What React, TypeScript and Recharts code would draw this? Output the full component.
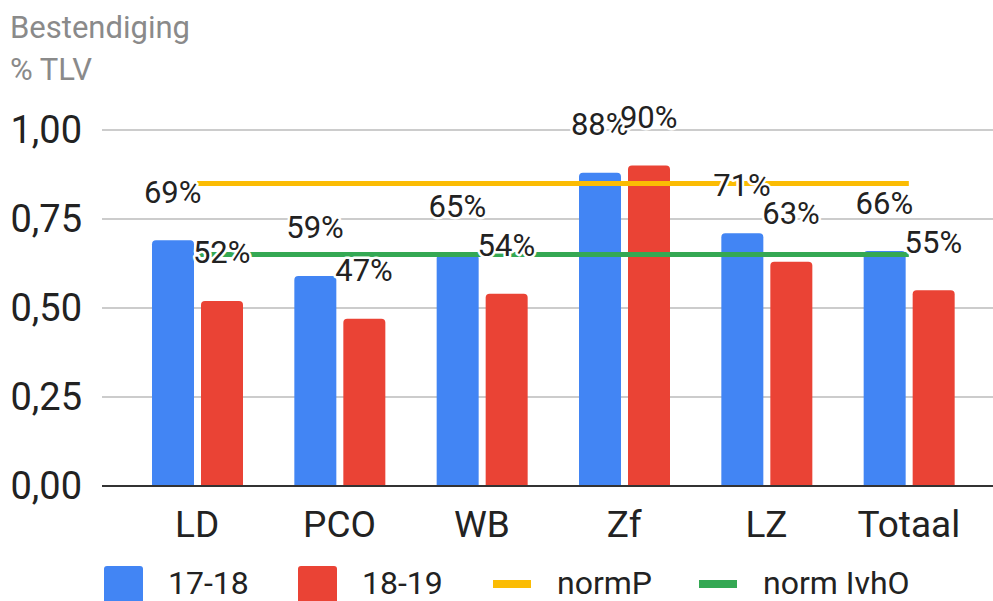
import React from 'react';
import { ComposedChart, Bar, Line, XAxis, YAxis, CartesianGrid, Legend } from 'recharts';

const categories = ['LD', 'PCO', 'WB', 'Zf', 'LZ', 'Totaal'];
const s1718 = [0.69, 0.59, 0.65, 0.88, 0.71, 0.66];
const s1819 = [0.52, 0.47, 0.54, 0.90, 0.63, 0.55];
const normP = [0.85, 0.85, 0.85, 0.85, 0.85, 0.85];
const normIvhO = [0.65, 0.65, 0.65, 0.65, 0.65, 0.65];
const yTicks = [0, 0.25, 0.5, 0.75, 1];

const data = categories.map((c, i) => ({
  cat: c,
  a: s1718[i],
  b: s1819[i],
  p: normP[i],
  o: normIvhO[i],
}));

const BLUE = '#4285F4';
const RED = '#EA4335';
const ORANGE = '#FBBC04';
const GREEN = '#34A853';
const FONT = 'Roboto, "Noto Sans", sans-serif';

const legendItems = [
  { name: '17-18', color: BLUE, kind: 'bar', w: 194 },
  { name: '18-19', color: RED, kind: 'bar', w: 195 },
  { name: 'normP', color: ORANGE, kind: 'line', w: 206 },
  { name: 'norm IvhO', color: GREEN, kind: 'line', w: 260 },
];

const makeLabel = (dx: number) => (props: any) => {
  const { x, y, value } = props;
  if (value == null) return null;
  return (
    <text
      x={x + dx}
      y={y - 48}
      textAnchor="middle"
      dominantBaseline="central"
      fontFamily={FONT}
      fontSize={31}
      fill="#222"
      stroke="#fff"
      strokeWidth={5}
      strokeLinejoin="round"
      paintOrder="stroke"
    >
      {`${Math.round(value * 100)}%`}
    </text>
  );
};

const renderLegend = () => (
  <div style={{ display: 'flex', alignItems: 'flex-start', paddingLeft: 104, fontFamily: FONT, fontSize: 32, color: '#222' }}>
    {legendItems.map((it) => (
      <div key={it.name} style={{ display: 'flex', alignItems: 'flex-start', width: it.w, flexShrink: 0 }}>
        {it.kind === 'bar' ? (
          <div style={{ width: 39, height: 42, background: it.color, borderRadius: 3, marginRight: 25 }} />
        ) : (
          <div style={{ width: 38, height: 8, background: it.color, marginTop: 14, marginRight: 26 }} />
        )}
        <span style={{ lineHeight: '34px', whiteSpace: 'nowrap' }}>{it.name}</span>
      </div>
    ))}
  </div>
);

export default function App() {
  return (
    <div style={{ position: 'absolute', left: 0, top: 0, width: 993, height: 601, background: '#fff', overflow: 'hidden' }}>
      <div style={{ position: 'absolute', left: 10, top: 7, fontFamily: FONT, fontSize: 31, color: '#8a8a8a', lineHeight: '42px' }}>
        <div>Bestendiging</div>
        <div>% TLV</div>
      </div>
      <ComposedChart
        width={993}
        height={601}
        data={data}
        margin={{ top: 130, right: 0, bottom: 85, left: 0 }}
        barSize={42}
        barGap={7}
      >
        <CartesianGrid vertical={false} stroke="#cccccc" strokeWidth={2} />
        <XAxis
          dataKey="cat"
          padding={{ left: 24, right: 13 }}
          axisLine={{ stroke: '#333', strokeWidth: 2 }}
          tickLine={false}
          tickSize={0}
          tickMargin={25}
          tick={{ fontFamily: FONT, fontSize: 37, fill: '#222' }}
          interval={0}
        />
        <YAxis
          width={102}
          domain={[0, 1]}
          ticks={yTicks}
          axisLine={false}
          tickLine={false}
          tickSize={0}
          tickMargin={20}
          tick={{ fontFamily: FONT, fontSize: 38, fill: '#222' }}
          tickFormatter={(v: number) => v.toFixed(2).replace('.', ',')}
        />
        <Bar dataKey="a" name="17-18" fill={BLUE} radius={[4, 4, 0, 0]} isAnimationActive={false} />
        <Bar dataKey="b" name="18-19" fill={RED} radius={[4, 4, 0, 0]} isAnimationActive={false} />
        <Line dataKey="p" name="normP" stroke={ORANGE} strokeWidth={5} dot={false} activeDot={false} isAnimationActive={false} />
        <Line dataKey="o" name="norm IvhO" stroke={GREEN} strokeWidth={5} dot={false} activeDot={false} isAnimationActive={false} />
        <Line dataKey="a" stroke="none" legendType="none" dot={false} activeDot={false} label={makeLabel(-24.5)} isAnimationActive={false} />
        <Line dataKey="b" stroke="none" legendType="none" dot={false} activeDot={false} label={makeLabel(24.5)} isAnimationActive={false} />
        <Legend
          layout="horizontal"
          verticalAlign="middle"
          align="center"
          content={renderLegend}
          wrapperStyle={{ top: 566, left: 0, width: 993 }}
        />
      </ComposedChart>
    </div>
  );
}
